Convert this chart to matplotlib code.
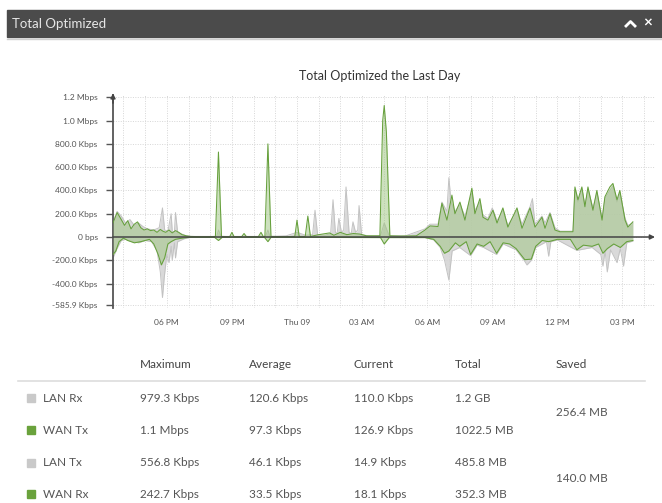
import matplotlib.pyplot as plt
from matplotlib.patches import Rectangle
from matplotlib.lines import Line2D

plt.rcParams['font.family'] = ['Lato', 'DejaVu Sans']

# hours relative to midnight (Thu 09), values in Kbps
t_lan_rx = [-8.48, -8.29, -8.1, -7.9, -7.7, -7.5, -7.3, -7.1, -6.9, -6.6, -6.35, -6.2, -6.1, -5.95, -5.8,
            -5.75, -5.65, -5.6, -5.5, -5.3, -5.1, -4.9, -4.0, -3.7, -3.62, -3.5, -2.0, -1.45, -1.34, -1.25,
            -0.5, 0.0, 0.4, 0.72, 0.83, 0.95, 1.3, 1.55, 1.66, 1.77, 1.85, 1.93, 2.05, 2.15, 2.26, 2.4, 2.5,
            2.58, 2.7, 2.8, 2.86, 2.98, 3.3, 3.85, 4.02, 4.25, 5.0, 5.9, 6.13, 6.5, 6.68, 6.91, 7.0, 7.1,
            7.28, 7.51, 7.74, 8.06, 8.2, 8.43, 8.57, 8.8, 9.0, 9.22, 9.49, 9.72, 10.14, 10.37, 10.74, 10.85,
            10.97, 11.29, 11.43, 11.66, 11.89, 12.12, 12.72, 12.81, 12.95, 13.13, 13.27, 13.41, 13.64, 13.82,
            14.06, 14.19, 14.42, 14.56, 14.75, 14.88, 15.12, 15.25, 15.48]
v_lan_rx = [130, 220, 180, 120, 150, 100, 120, 90, 70, 60, 80, 250, 60, 50, 200,
            50, 40, 210, 40, 25, 10, 5, 5, 5, 60, 5, 5, 5, 60, 5,
            10, 40, 15, 20, 230, 20, 15, 30, 320, 40, 30, 160, 40, 60, 430, 40, 30,
            130, 40, 60, 270, 20, 10, 10, 120, 10, 10, 70, 110, 110, 300, 220, 510, 300,
            220, 280, 180, 380, 230, 300, 190, 160, 250, 140, 230, 100, 230, 110, 260, 330,
            110, 180, 120, 210, 80, 50, 50, 410, 300, 410, 270, 410, 250, 380,
            160, 330, 400, 440, 300, 380, 160, 100, 120]

t_wan_tx = [-8.48, -8.29, -8.1, -7.95, -7.8, -7.65, -7.5, -7.35, -7.2, -7.05, -6.9, -6.75, -6.6, -6.45,
            -6.3, -6.18, -6.05, -5.9, -5.75, -5.6, -5.45, -5.3, -5.1, -4.9, -4.5, -4.0, -3.76, -3.62, -3.48,
            -3.1, -3.0, -2.9, -2.55, -2.44, -2.33, -1.78, -1.66, -1.55, -1.48, -1.34, -1.2, -0.6, -0.1, 0.0,
            0.1, 0.38, 0.5, 0.62, 1.0, 1.5, 1.7, 2.0, 2.3, 2.6, 2.9, 3.2, 3.82, 3.95, 4.02, 4.12, 4.28, 4.8,
            5.5, 5.9, 6.13, 6.5, 6.68, 6.91, 7.14, 7.28, 7.51, 7.74, 8.06, 8.2, 8.43, 8.57, 8.8, 9.03, 9.22,
            9.49, 9.72, 10.14, 10.37, 10.74, 10.97, 11.29, 11.43, 11.66, 11.89, 12.12, 12.72, 12.81, 12.95,
            13.13, 13.27, 13.41, 13.64, 13.82, 14.06, 14.19, 14.42, 14.56, 14.75, 14.88, 15.12, 15.25, 15.48]
v_wan_tx = [120, 210, 150, 100, 140, 70, 110, 130, 80, 60, 70, 55, 60, 40,
            65, 50, 40, 60, 35, 55, 40, 20, 10, 5, 3, 3, 5, 730, 5,
            3, 40, 3, 3, 30, 3, 3, 40, 3, 5, 800, 5, 3, 5, 145,
            5, 5, 180, 5, 20, 35, 15, 40, 20, 30, 25, 10, 10, 1000, 1130, 900, 10, 8,
            10, 60, 95, 90, 290, 145, 360, 200, 300, 145, 420, 200, 330, 170, 145, 230, 120,
            250, 85, 250, 75, 250, 85, 170, 75, 200, 60, 45, 45, 430, 320,
            430, 260, 430, 230, 400, 145, 345, 430, 460, 320, 400, 145, 85, 130]

t_lan_tx = [-8.48, -8.3, -8.1, -7.9, -7.6, -7.3, -7.0, -6.7, -6.45, -6.3, -6.2, -6.12, -6.0, -5.9, -5.8,
            -5.75, -5.65, -5.6, -5.5, -5.2, -4.9, 5.9, 6.3, 6.6, 6.8, 7.0, 7.15, 7.5, 8.0, 8.3, 8.6, 9.2,
            9.5, 10.1, 10.5, 10.6, 10.8, 11.0, 11.5, 11.6, 11.7, 12.0, 12.9, 13.6, 14.0, 14.1, 14.2, 14.3,
            14.45, 14.75, 14.9, 15.05, 15.2, 15.48]
v_lan_tx = [-180, -100, -30, -20, -40, -50, -30, -40, -120, -300, -520, -350, -150, -220, -80,
            -200, -50, -180, -40, -15, -3, -5, -25, -90, -200, -370, -120, -90, -160, -70, -90, -150,
            -60, -110, -210, -240, -200, -90, -40, -165, -40, -25, -115, -90, -150, -250, -120, -300,
            -110, -220, -100, -250, -50, -35]

t_wan_rx = [-8.48, -8.35, -8.2, -8.0, -7.8, -7.5, -7.2, -7.0, -6.8, -6.6, -6.4, -6.25, -6.1, -5.95, -5.8,
            -5.6, -5.3, -5.0, -3.8, -3.62, -3.45, -1.5, -1.34, -1.2, 3.85, 4.02, 4.25, 5.9, 6.3, 6.6, 6.8,
            7.0, 7.3, 7.5, 7.8, 8.0, 8.3, 8.6, 8.9, 9.2, 9.5, 9.8, 10.1, 10.5, 10.8, 11.0, 11.3, 11.6, 12.0,
            12.6, 12.9, 13.2, 13.6, 13.9, 14.1, 14.3, 14.6, 14.9, 15.2, 15.48]
v_wan_rx = [-150, -120, -40, -10, -30, -50, -40, -30, -20, -60, -150, -240, -180, -60, -40,
            -20, -10, -3, -3, -30, -3, -3, -40, -3, -5, -60, -5, -5, -20, -80, -140,
            -120, -50, -80, -40, -150, -60, -80, -40, -140, -50, -60, -100, -195, -190, -80, -30, -40, -20,
            -20, -110, -70, -80, -60, -140, -100, -60, -90, -40, -30]

x_ticks = [-6, -3, 0, 3, 6, 9, 12, 15]
x_labels = ['06 PM', '09 PM', 'Thu 09', '03 AM', '06 AM', '09 AM', '12 PM', '03 PM']
y_ticks = [1200, 1000, 800, 600, 400, 200, 0, -200, -400, -585.9]
y_labels = ['1.2 Mbps', '1.0 Mbps', '800.0 Kbps', '600.0 Kbps', '400.0 Kbps', '200.0 Kbps', '0 bps',
            '-200.0 Kbps', '-400.0 Kbps', '-585.9 Kbps']

columns = ['Maximum', 'Average', 'Current', 'Total']
row_names = ['LAN Rx', 'WAN Tx', 'LAN Tx', 'WAN Rx']
row_values = [['979.3 Kbps', '120.6 Kbps', '110.0 Kbps', '1.2 GB'],
              ['1.1 Mbps', '97.3 Kbps', '126.9 Kbps', '1022.5 MB'],
              ['556.8 Kbps', '46.1 Kbps', '14.9 Kbps', '485.8 MB'],
              ['242.7 Kbps', '33.5 Kbps', '18.1 Kbps', '352.3 MB']]
saved = ['256.4 MB', '140.0 MB']

GRAY = '#c9c9c9'
GREEN = '#6aa23c'
W, H = 662, 503


def fx(x):
    return x / W


def fy(y):
    return 1 - y / H


fig = plt.figure(figsize=(W / 100, H / 100), dpi=100)
fig.patch.set_facecolor('white')

# header bar
fig.patches.append(Rectangle((fx(7), fy(37)), fx(655), 27 / H, transform=fig.transFigure,
                             color='#4b4b4b', zorder=0))
fig.add_artist(Line2D([fx(7), 1], [fy(38.5), fy(38.5)], color='#d0d0d0', lw=1))
fig.text(fx(12), fy(23.5), 'Total Optimized', color='#e6e6e6', fontsize=9.5, va='center')
fig.add_artist(Line2D([fx(626), fx(630.5), fx(635)], [fy(26), fy(21.5), fy(26)],
                      color='white', lw=2))
fig.text(fx(648), fy(23.5), '\u00d7', color='white', fontsize=11, fontweight='bold',
         ha='center', va='center')

# chart
ax = fig.add_axes([fx(113), fy(308), (655 - 113) / W, (308 - 95) / H])
ax.set_xlim(-8.48, 16.5)
ax.set_ylim(-610, 1220)

for h in range(-8, 17):
    ax.axvline(h, color='#d6d6d6', lw=0.7, ls=(0, (1, 1.5)), zorder=0)
for yv in y_ticks:
    ax.axhline(yv, color='#d6d6d6', lw=0.7, ls=(0, (1, 1.5)), zorder=0)

ax.fill_between(t_lan_rx, v_lan_rx, 0, color='#d3d3d3', alpha=0.85, lw=0, zorder=1)
ax.fill_between(t_lan_tx, v_lan_tx, 0, color='#d3d3d3', alpha=0.85, lw=0, zorder=1)
ax.plot(t_lan_rx, v_lan_rx, color='#c2c2c2', lw=0.7, zorder=2)
ax.plot(t_lan_tx, v_lan_tx, color='#c2c2c2', lw=0.7, zorder=2)
ax.fill_between(t_wan_tx, v_wan_tx, 0, color='#9cc47e', alpha=0.5, lw=0, zorder=3)
ax.fill_between(t_wan_rx, v_wan_rx, 0, color='#9cc47e', alpha=0.5, lw=0, zorder=3)
ax.plot(t_wan_tx, v_wan_tx, color='#66a03c', lw=0.75, zorder=4)
ax.plot(t_wan_rx, v_wan_rx, color='#66a03c', lw=0.75, zorder=4)

for s in ['top', 'right', 'bottom']:
    ax.spines[s].set_visible(False)
ax.spines['left'].set_color('#555555')
ax.spines['left'].set_linewidth(1.3)

ax.annotate('', xy=(16.5, 0), xytext=(-8.48, 0), annotation_clip=False, zorder=5,
            arrowprops=dict(arrowstyle='-|>', color='#444444', lw=1.1, mutation_scale=7,
                            shrinkA=0, shrinkB=0))
ax.annotate('', xy=(-8.48, 1235), xytext=(-8.48, 1150), annotation_clip=False, zorder=5,
            arrowprops=dict(arrowstyle='-|>', color='#444444', lw=1.1, mutation_scale=7,
                            shrinkA=0, shrinkB=0))

ax.set_xticks(x_ticks)
ax.set_xticklabels(x_labels)
ax.set_yticks(y_ticks)
ax.set_yticklabels(y_labels)
ax.tick_params(axis='x', length=0, pad=8, labelsize=6, labelcolor='#555555')
ax.tick_params(axis='y', length=5, width=1, color='#555555', pad=6, labelsize=6, labelcolor='#555555')

fig.text(fx(380), fy(76), 'Total Optimized the Last Day', ha='center', va='center', fontsize=9,
         color='#333333')

# summary table
col_x = [140, 249, 354, 455]
fig.text(fx(556), fy(364), 'Saved', fontsize=8.5, color='#444444', va='center')
for cx, name in zip(col_x, columns):
    fig.text(fx(cx), fy(364), name, fontsize=8.5, color='#444444', va='center')
fig.add_artist(Line2D([fx(18), fx(645)], [fy(381), fy(381)], color='#dddddd', lw=1.2))

row_y = [398, 430, 463, 494]
for i, ry in enumerate(row_y):
    c = GRAY if i % 2 == 0 else GREEN
    fig.patches.append(Rectangle((fx(27), fy(ry + 4)), 8 / W, 8 / H, transform=fig.transFigure,
                                 color=c))
    fig.text(fx(43), fy(ry), row_names[i], fontsize=8.5, color='#555555', va='center')
    for cx, val in zip(col_x, row_values[i]):
        fig.text(fx(cx), fy(ry), val, fontsize=8.5, color='#555555', va='center')
fig.text(fx(556), fy(413), saved[0], fontsize=8.5, color='#555555', va='center')
fig.text(fx(556), fy(478), saved[1], fontsize=8.5, color='#555555', va='center')

fig.savefig('out.png', dpi=100)
